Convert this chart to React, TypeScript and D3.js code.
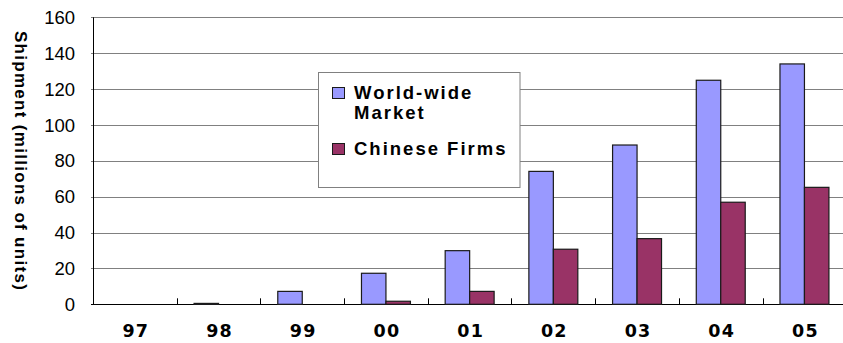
import React from "react";
import * as d3 from "d3";

const years = ["97", "98", "99", "00", "01", "02", "03", "04", "05"];
const seriesNames = ["World-wide Market", "Chinese Firms"];
const worldWide = [0, 0.5, 7.2, 17.3, 29.9, 74.1, 88.8, 124.9, 134];
const chineseFirms = [0, 0, 0, 1.7, 7.2, 30.7, 36.6, 56.9, 65.2];
const yTicks = [0, 20, 40, 60, 80, 100, 120, 140, 160];
const colors = ["#9999FF", "#993366"];

const W = 843;
const H = 343;
const left = 93;
const right = 846.3;
const top = 17.3;
const bottom = 304.3;

export default function App() {
  const x = d3.scaleBand<string>().domain(years).range([left, right]).padding(0);
  const sub = d3
    .scaleBand<string>()
    .domain(seriesNames)
    .range([0, x.bandwidth()])
    .paddingInner(0)
    .paddingOuter(0.71);
  const y = d3.scaleLinear().domain([0, 160]).range([bottom, top]);
  const data = [worldWide, chineseFirms];
  const wide = "'DejaVu Sans', sans-serif";
  const arialB = "'Liberation Sans', Arial, sans-serif";

  return (
    <svg
      width={W}
      height={H}
      style={{ position: "absolute", left: 0, top: 0, background: "#fff" }}
    >
      {/* gridlines */}
      {yTicks.map((t) => (
        <line
          key={"g" + t}
          x1={left - 2}
          x2={W}
          y1={Math.round(y(t)) + 0.5}
          y2={Math.round(y(t)) + 0.5}
          stroke={t === 0 ? "#000" : "#808080"}
          strokeWidth={1}
        />
      ))}
      {/* y axis line */}
      <line x1={left + 0.5} x2={left + 0.5} y1={y(160)} y2={y(0)} stroke="#000" />
      {/* x ticks */}
      {years.slice(1).map((c) => (
        <line
          key={"t" + c}
          x1={Math.round(x(c)!) + 0.5}
          x2={Math.round(x(c)!) + 0.5}
          y1={y(0) - 6}
          y2={y(0)}
          stroke="#000"
        />
      ))}
      {/* bars */}
      {data.map((vals, si) =>
        vals.map((v, i) =>
          v > 0 ? (
            <rect
              key={si + "-" + i}
              x={x(years[i])! + sub(seriesNames[si])!}
              y={y(v)}
              width={sub.bandwidth()}
              height={y(0) - y(v)}
              fill={colors[si]}
              stroke="#1a1a1a"
              strokeWidth={1.2}
            />
          ) : null
        )
      )}
      {/* y tick labels */}
      {yTicks.map((t) => (
        <text
          key={"yl" + t}
          x={75}
          y={y(t)}
          dy="0.36em"
          textAnchor="end"
          fontFamily={arialB}
          fontSize={18.5}
          fill="#000"
        >
          {t}
        </text>
      ))}
      {/* x labels */}
      {years.map((c) => (
        <text
          key={"xl" + c}
          x={x(c)! + x.bandwidth() / 2 + 1}
          y={336.8}
          textAnchor="middle"
          fontFamily={wide}
          fontWeight="bold"
          fontSize={17.5}
          letterSpacing={1.2}
          fill="#000"
        >
          {c}
        </text>
      ))}
      {/* y title */}
      <text
        transform={`translate(21,161) rotate(90)`}
        textAnchor="middle"
        dy="0.35em"
        fontFamily={arialB}
        fontWeight="bold"
        fontSize={17}
        letterSpacing={1.3}
        fill="#000"
      >
        Shipment (millions of units)
      </text>
      {/* legend */}
      <g>
        <rect x={318.5} y={72.5} width={201.5} height={115} fill="#fff" stroke="#808080" />
        <rect x={332.5} y={87.5} width={12} height={11} fill={colors[0]} stroke="#1a1a1a" />
        <rect x={332.5} y={143.5} width={12} height={11} fill={colors[1]} stroke="#1a1a1a" />
        <text
          x={354}
          y={98.5}
          fontFamily={arialB}
          fontWeight="bold"
          fontSize={18.5}
          letterSpacing={2}
          fill="#000"
        >
          World-wide
        </text>
        <text
          x={354}
          y={119}
          fontFamily={arialB}
          fontWeight="bold"
          fontSize={18.5}
          letterSpacing={2}
          fill="#000"
        >
          Market
        </text>
        <text
          x={354}
          y={155}
          fontFamily={arialB}
          fontWeight="bold"
          fontSize={18.5}
          letterSpacing={2}
          fill="#000"
        >
          Chinese Firms
        </text>
      </g>
    </svg>
  );
}
